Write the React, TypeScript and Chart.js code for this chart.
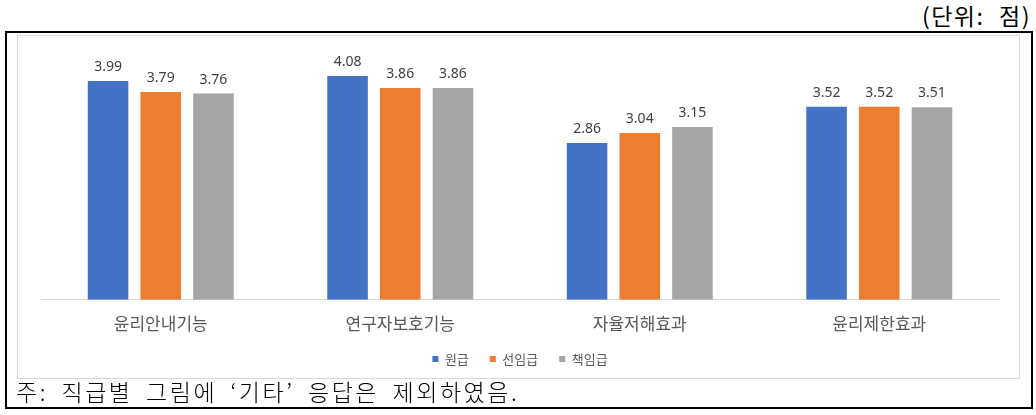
import React, { useEffect, useRef } from "react";
import { Chart, registerables } from "chart.js";

Chart.register(...registerables);

const categories = ["윤리안내기능", "연구자보호기능", "자율저해효과", "윤리제한효과"];
const seriesNames = ["원급", "선임급", "책임급"];
const junior = [3.99, 4.08, 2.86, 3.52];
const senior = [3.79, 3.86, 3.04, 3.52];
const principal = [3.76, 3.86, 3.15, 3.51];
const colors = ["#4472C4", "#ED7D31", "#A5A5A5"];

const valueLabels = {
  id: "valueLabels",
  afterDatasetsDraw(chart: any) {
    const ctx = chart.ctx;
    ctx.save();
    ctx.font = "14px 'Noto Sans', sans-serif";
    ctx.fillStyle = "#404040";
    ctx.textAlign = "center";
    ctx.textBaseline = "bottom";
    chart.data.datasets.forEach((ds: any, i: number) => {
      const meta = chart.getDatasetMeta(i);
      meta.data.forEach((bar: any, j: number) => {
        ctx.fillText(Number(ds.data[j]).toFixed(2), bar.x, bar.y - 7);
      });
    });
    ctx.restore();
  },
};

// pull the legend up closer to the axis labels while keeping wide item spacing
const legendShift = {
  id: "legendShift",
  afterLayout(chart: any) {
    const lg = chart.legend;
    if (lg) {
      lg.top -= 16.5;
      lg.bottom -= 16.5;
      if (lg.legendHitBoxes) lg.legendHitBoxes.forEach((h: any) => (h.top -= 16.5));
    }
  },
};

const CANVAS_W = 1001;
const CANVAS_H = 370;

export default function App() {
  const ref = useRef<HTMLCanvasElement>(null);
  useEffect(() => {
    const chart = new Chart(ref.current!, {
      type: "bar",
      data: {
        labels: categories,
        datasets: [junior, senior, principal].map((d, i) => ({
          label: seriesNames[i],
          data: d,
          backgroundColor: colors[i],
          categoryPercentage: 0.66,
          barPercentage: 0.77,
        })),
      },
      options: {
        animation: false,
        responsive: false,
        maintainAspectRatio: false,
        layout: { padding: { left: 23, right: 20, top: 17, bottom: 14 } },
        scales: {
          x: {
            grid: { display: false, drawTicks: false },
            border: { display: true, color: "#D9D9D9", width: 1 },
            ticks: {
              color: "#595959",
              font: { size: 17, family: "'Noto Sans CJK KR', sans-serif", lineHeight: 0.95 },
              padding: 16,
            },
          },
          y: {
            display: false,
            min: 0,
            max: 4.5,
          },
        },
        plugins: {
          legend: {
            position: "bottom",
            labels: {
              boxWidth: 6,
              boxHeight: 6,
              color: "#595959",
              font: { size: 13, family: "'Noto Sans CJK KR', sans-serif" },
              padding: 21,
            },
          },
          tooltip: { enabled: false },
        },
      },
      plugins: [valueLabels, legendShift],
    });
    return () => chart.destroy();
  }, []);

  return (
    <div style={{ position: "absolute", left: 0, top: 0, width: 1036, height: 415, background: "#fff" }}>
      <div
        style={{
          position: "absolute",
          right: 5,
          top: -2,
          fontFamily: "'Noto Sans CJK KR', sans-serif",
          fontSize: 23,
          letterSpacing: 1.5,
          wordSpacing: 8,
          color: "#000",
          whiteSpace: "pre",
        }}
      >
        (단위: 점)
      </div>
      <div
        style={{
          position: "absolute",
          left: 5,
          top: 31,
          width: 1024,
          height: 374,
          border: "2px solid #000",
        }}
      />
      <div
        style={{
          position: "absolute",
          left: 17,
          top: 35,
          width: 1001,
          height: 342,
          border: "1px solid #D9D9D9",
        }}
      />
      <canvas
        ref={ref}
        width={CANVAS_W}
        height={CANVAS_H}
        style={{ position: "absolute", left: 18, top: 36, display: "block" }}
      />
      <div
        style={{
          position: "absolute",
          left: 16,
          top: 379,
          lineHeight: "24px",
          fontFamily: "'Noto Sans CJK KR', sans-serif",
          fontWeight: 300,
          fontSize: 23,
          letterSpacing: 2.5,
          wordSpacing: 6,
          color: "#000",
          whiteSpace: "pre",
        }}
      >
        주: 직급별 그림에 ‘기타’ 응답은 제외하였음.
      </div>
    </div>
  );
}
